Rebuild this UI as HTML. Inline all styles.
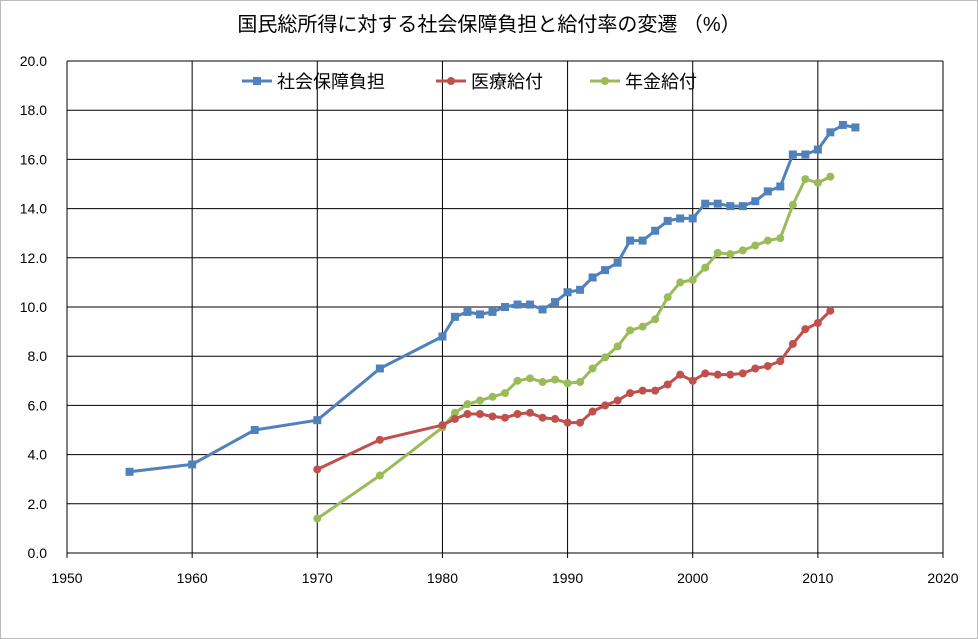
<!DOCTYPE html><html><head><meta charset="utf-8"><style>body{margin:0;background:#fff}svg{display:block}text{font-family:"Liberation Sans","Noto Sans CJK JP",sans-serif}</style></head><body>
<svg id="s" width="978" height="639" xmlns="http://www.w3.org/2000/svg">
<rect x="0.5" y="0.5" width="977" height="638" fill="#fff" stroke="#bbb"/>
<text x="489" y="31" font-size="20" text-anchor="middle" fill="#000">国民総所得に対する社会保障負担と給付率の変遷 （%）</text>
<g id="g"></g>
</svg>
<script>
var g=document.getElementById('g'),h='';
function X(y){return 67+(y-1950)*876/70}function Y(v){return 553-v*24.6}
for(var i=0;i<=10;i++){var y=Y(i*2);h+='<line x1="67" x2="943" y1="'+y+'" y2="'+y+'" stroke="#000" stroke-width="1"/>';h+='<text x="47" y="'+(y+5)+'" font-size="14" text-anchor="end">'+(i*2).toFixed(1)+'</text>';}
for(var i=0;i<=7;i++){var x=X(1950+i*10);h+='<line x1="'+x+'" x2="'+x+'" y1="61" y2="558" stroke="#000"/>';h+='<text x="'+x+'" y="583" font-size="14" text-anchor="middle">'+(1950+i*10)+'</text>';}
h+='<line x1="67" x2="943" y1="553" y2="553" stroke="#000"/>';
var B=[[1955,3.3],[1960,3.6],[1965,5.0],[1970,5.4],[1975,7.5],[1980,8.8]],bv=[9.6,9.8,9.7,9.8,10.0,10.1,10.1,9.9,10.2,10.6,10.7,11.2,11.5,11.8,12.7,12.7,13.1,13.5,13.6,13.6,14.2,14.2,14.1,14.1,14.3,14.7,14.9,16.2,16.2,16.4,17.1,17.4,17.3];
bv.forEach(function(v,i){B.push([1981+i,v])});
var R=[[1970,3.4],[1975,4.6],[1980,5.2]],rv=[5.45,5.65,5.65,5.55,5.5,5.65,5.7,5.5,5.45,5.3,5.3,5.75,6.0,6.2,6.5,6.6,6.6,6.85,7.25,7.0,7.3,7.25,7.25,7.3,7.5,7.6,7.8,8.5,9.1,9.35,9.85];
rv.forEach(function(v,i){R.push([1981+i,v])});
var G=[[1970,1.4],[1975,3.15],[1980,5.1]],gv=[5.7,6.05,6.2,6.35,6.5,7.0,7.1,6.95,7.05,6.9,6.95,7.5,7.95,8.4,9.05,9.2,9.5,10.4,11.0,11.1,11.6,12.2,12.15,12.3,12.5,12.7,12.8,14.15,15.2,15.05,15.3];
gv.forEach(function(v,i){G.push([1981+i,v])});
function ser(d,c,sq){var p=d.map(function(a){return X(a[0]).toFixed(1)+','+Y(a[1]).toFixed(1)}).join(' ');
h+='<polyline points="'+p+'" fill="none" stroke="'+c+'" stroke-width="3" stroke-linejoin="round"/>';
d.forEach(function(a){var x=X(a[0]),y=Y(a[1]);h+=sq?'<rect x="'+(x-4)+'" y="'+(y-4)+'" width="8" height="8" fill="'+c+'"/>':'<circle cx="'+x+'" cy="'+y+'" r="4" fill="'+c+'"/>';});}
ser(G,'#9bbb59',0);ser(R,'#c0504d',0);ser(B,'#4f81bd',1);
function leg(x,c,sq,t){h+='<line x1="'+x+'" x2="'+(x+30)+'" y1="81" y2="81" stroke="'+c+'" stroke-width="3"/>';h+=sq?'<rect x="'+(x+11)+'" y="77" width="8" height="8" fill="'+c+'"/>':'<circle cx="'+(x+15)+'" cy="81" r="4" fill="'+c+'"/>';h+='<text x="'+(x+35)+'" y="88" font-size="18">'+t+'</text>';}
leg(242,'#4f81bd',1,'社会保障負担');leg(436,'#c0504d',0,'医療給付');leg(590,'#9bbb59',0,'年金給付');
g.innerHTML=h;
</script>
</body></html>
